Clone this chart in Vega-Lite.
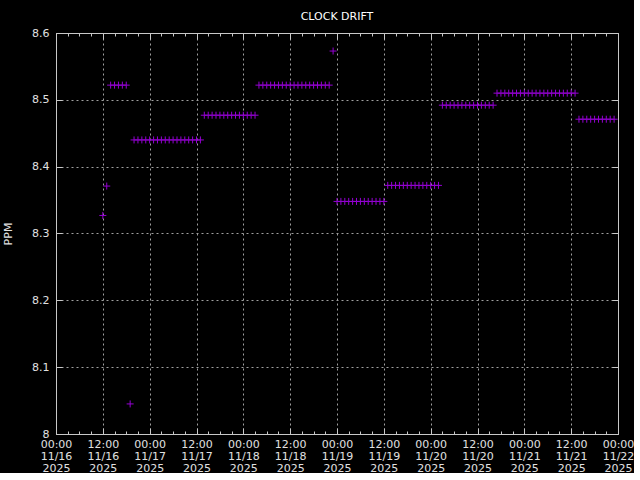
{
  "$schema": "https://vega.github.io/schema/vega-lite/v6.json",
  "width": 562,
  "height": 401,
  "padding": {"left": 2, "top": 11, "right": 0, "bottom": 0},
  "background": "#000000",
  "title": {"text": "CLOCK DRIFT", "color": "#ffffff", "fontSize": 11, "font": "DejaVu Sans", "fontWeight": "normal", "offset": 5, "anchor": "middle"},
  "config": {
    "view": {"stroke": null},
    "axis": {"labelFont": "DejaVu Sans", "labelFontSize": 11, "labelColor": "#e0e0e0", "titleFont": "DejaVu Sans", "titleColor": "#e0e0e0", "titleFontSize": 11, "titleFontWeight": "normal", "domainColor": "#c8c8c8", "tickColor": "#c8c8c8", "gridColor": "#a0a0a0", "gridDash": [2, 3], "gridOpacity": 1}
  },
  "data": {"values": [
    {"t": "2025-11-16T12:00:00Z", "ppm": 8.327},
    {"t": "2025-11-16T13:00:00Z", "ppm": 8.371},
    {"t": "2025-11-16T19:00:00Z", "ppm": 8.045},
    {"t": "2025-11-18T23:00:00Z", "ppm": 8.573},
    {"t": "2025-11-16T14:00:00Z", "ppm": 8.522},
    {"t": "2025-11-16T15:00:00Z", "ppm": 8.522},
    {"t": "2025-11-16T16:00:00Z", "ppm": 8.522},
    {"t": "2025-11-16T17:00:00Z", "ppm": 8.522},
    {"t": "2025-11-16T18:00:00Z", "ppm": 8.522},
    {"t": "2025-11-16T20:00:00Z", "ppm": 8.44},
    {"t": "2025-11-16T21:00:00Z", "ppm": 8.44},
    {"t": "2025-11-16T22:00:00Z", "ppm": 8.44},
    {"t": "2025-11-16T23:00:00Z", "ppm": 8.44},
    {"t": "2025-11-17T00:00:00Z", "ppm": 8.44},
    {"t": "2025-11-17T01:00:00Z", "ppm": 8.44},
    {"t": "2025-11-17T02:00:00Z", "ppm": 8.44},
    {"t": "2025-11-17T03:00:00Z", "ppm": 8.44},
    {"t": "2025-11-17T04:00:00Z", "ppm": 8.44},
    {"t": "2025-11-17T05:00:00Z", "ppm": 8.44},
    {"t": "2025-11-17T06:00:00Z", "ppm": 8.44},
    {"t": "2025-11-17T07:00:00Z", "ppm": 8.44},
    {"t": "2025-11-17T08:00:00Z", "ppm": 8.44},
    {"t": "2025-11-17T09:00:00Z", "ppm": 8.44},
    {"t": "2025-11-17T10:00:00Z", "ppm": 8.44},
    {"t": "2025-11-17T11:00:00Z", "ppm": 8.44},
    {"t": "2025-11-17T12:00:00Z", "ppm": 8.44},
    {"t": "2025-11-17T13:00:00Z", "ppm": 8.44},
    {"t": "2025-11-17T14:00:00Z", "ppm": 8.477},
    {"t": "2025-11-17T15:00:00Z", "ppm": 8.477},
    {"t": "2025-11-17T16:00:00Z", "ppm": 8.477},
    {"t": "2025-11-17T17:00:00Z", "ppm": 8.477},
    {"t": "2025-11-17T18:00:00Z", "ppm": 8.477},
    {"t": "2025-11-17T19:00:00Z", "ppm": 8.477},
    {"t": "2025-11-17T20:00:00Z", "ppm": 8.477},
    {"t": "2025-11-17T21:00:00Z", "ppm": 8.477},
    {"t": "2025-11-17T22:00:00Z", "ppm": 8.477},
    {"t": "2025-11-17T23:00:00Z", "ppm": 8.477},
    {"t": "2025-11-18T00:00:00Z", "ppm": 8.477},
    {"t": "2025-11-18T01:00:00Z", "ppm": 8.477},
    {"t": "2025-11-18T02:00:00Z", "ppm": 8.477},
    {"t": "2025-11-18T03:00:00Z", "ppm": 8.477},
    {"t": "2025-11-18T04:00:00Z", "ppm": 8.522},
    {"t": "2025-11-18T05:00:00Z", "ppm": 8.522},
    {"t": "2025-11-18T06:00:00Z", "ppm": 8.522},
    {"t": "2025-11-18T07:00:00Z", "ppm": 8.522},
    {"t": "2025-11-18T08:00:00Z", "ppm": 8.522},
    {"t": "2025-11-18T09:00:00Z", "ppm": 8.522},
    {"t": "2025-11-18T10:00:00Z", "ppm": 8.522},
    {"t": "2025-11-18T11:00:00Z", "ppm": 8.522},
    {"t": "2025-11-18T12:00:00Z", "ppm": 8.522},
    {"t": "2025-11-18T13:00:00Z", "ppm": 8.522},
    {"t": "2025-11-18T14:00:00Z", "ppm": 8.522},
    {"t": "2025-11-18T15:00:00Z", "ppm": 8.522},
    {"t": "2025-11-18T16:00:00Z", "ppm": 8.522},
    {"t": "2025-11-18T17:00:00Z", "ppm": 8.522},
    {"t": "2025-11-18T18:00:00Z", "ppm": 8.522},
    {"t": "2025-11-18T19:00:00Z", "ppm": 8.522},
    {"t": "2025-11-18T20:00:00Z", "ppm": 8.522},
    {"t": "2025-11-18T21:00:00Z", "ppm": 8.522},
    {"t": "2025-11-18T22:00:00Z", "ppm": 8.522},
    {"t": "2025-11-19T00:00:00Z", "ppm": 8.348},
    {"t": "2025-11-19T01:00:00Z", "ppm": 8.348},
    {"t": "2025-11-19T02:00:00Z", "ppm": 8.348},
    {"t": "2025-11-19T03:00:00Z", "ppm": 8.348},
    {"t": "2025-11-19T04:00:00Z", "ppm": 8.348},
    {"t": "2025-11-19T05:00:00Z", "ppm": 8.348},
    {"t": "2025-11-19T06:00:00Z", "ppm": 8.348},
    {"t": "2025-11-19T07:00:00Z", "ppm": 8.348},
    {"t": "2025-11-19T08:00:00Z", "ppm": 8.348},
    {"t": "2025-11-19T09:00:00Z", "ppm": 8.348},
    {"t": "2025-11-19T10:00:00Z", "ppm": 8.348},
    {"t": "2025-11-19T11:00:00Z", "ppm": 8.348},
    {"t": "2025-11-19T12:00:00Z", "ppm": 8.348},
    {"t": "2025-11-19T13:00:00Z", "ppm": 8.372},
    {"t": "2025-11-19T14:00:00Z", "ppm": 8.372},
    {"t": "2025-11-19T15:00:00Z", "ppm": 8.372},
    {"t": "2025-11-19T16:00:00Z", "ppm": 8.372},
    {"t": "2025-11-19T17:00:00Z", "ppm": 8.372},
    {"t": "2025-11-19T18:00:00Z", "ppm": 8.372},
    {"t": "2025-11-19T19:00:00Z", "ppm": 8.372},
    {"t": "2025-11-19T20:00:00Z", "ppm": 8.372},
    {"t": "2025-11-19T21:00:00Z", "ppm": 8.372},
    {"t": "2025-11-19T22:00:00Z", "ppm": 8.372},
    {"t": "2025-11-19T23:00:00Z", "ppm": 8.372},
    {"t": "2025-11-20T00:00:00Z", "ppm": 8.372},
    {"t": "2025-11-20T01:00:00Z", "ppm": 8.372},
    {"t": "2025-11-20T02:00:00Z", "ppm": 8.372},
    {"t": "2025-11-20T03:00:00Z", "ppm": 8.492},
    {"t": "2025-11-20T04:00:00Z", "ppm": 8.492},
    {"t": "2025-11-20T05:00:00Z", "ppm": 8.492},
    {"t": "2025-11-20T06:00:00Z", "ppm": 8.492},
    {"t": "2025-11-20T07:00:00Z", "ppm": 8.492},
    {"t": "2025-11-20T08:00:00Z", "ppm": 8.492},
    {"t": "2025-11-20T09:00:00Z", "ppm": 8.492},
    {"t": "2025-11-20T10:00:00Z", "ppm": 8.492},
    {"t": "2025-11-20T11:00:00Z", "ppm": 8.492},
    {"t": "2025-11-20T12:00:00Z", "ppm": 8.492},
    {"t": "2025-11-20T13:00:00Z", "ppm": 8.492},
    {"t": "2025-11-20T14:00:00Z", "ppm": 8.492},
    {"t": "2025-11-20T15:00:00Z", "ppm": 8.492},
    {"t": "2025-11-20T16:00:00Z", "ppm": 8.492},
    {"t": "2025-11-20T17:00:00Z", "ppm": 8.51},
    {"t": "2025-11-20T18:00:00Z", "ppm": 8.51},
    {"t": "2025-11-20T19:00:00Z", "ppm": 8.51},
    {"t": "2025-11-20T20:00:00Z", "ppm": 8.51},
    {"t": "2025-11-20T21:00:00Z", "ppm": 8.51},
    {"t": "2025-11-20T22:00:00Z", "ppm": 8.51},
    {"t": "2025-11-20T23:00:00Z", "ppm": 8.51},
    {"t": "2025-11-21T00:00:00Z", "ppm": 8.51},
    {"t": "2025-11-21T01:00:00Z", "ppm": 8.51},
    {"t": "2025-11-21T02:00:00Z", "ppm": 8.51},
    {"t": "2025-11-21T03:00:00Z", "ppm": 8.51},
    {"t": "2025-11-21T04:00:00Z", "ppm": 8.51},
    {"t": "2025-11-21T05:00:00Z", "ppm": 8.51},
    {"t": "2025-11-21T06:00:00Z", "ppm": 8.51},
    {"t": "2025-11-21T07:00:00Z", "ppm": 8.51},
    {"t": "2025-11-21T08:00:00Z", "ppm": 8.51},
    {"t": "2025-11-21T09:00:00Z", "ppm": 8.51},
    {"t": "2025-11-21T10:00:00Z", "ppm": 8.51},
    {"t": "2025-11-21T11:00:00Z", "ppm": 8.51},
    {"t": "2025-11-21T12:00:00Z", "ppm": 8.51},
    {"t": "2025-11-21T13:00:00Z", "ppm": 8.51},
    {"t": "2025-11-21T14:00:00Z", "ppm": 8.471},
    {"t": "2025-11-21T15:00:00Z", "ppm": 8.471},
    {"t": "2025-11-21T16:00:00Z", "ppm": 8.471},
    {"t": "2025-11-21T17:00:00Z", "ppm": 8.471},
    {"t": "2025-11-21T18:00:00Z", "ppm": 8.471},
    {"t": "2025-11-21T19:00:00Z", "ppm": 8.471},
    {"t": "2025-11-21T20:00:00Z", "ppm": 8.471},
    {"t": "2025-11-21T21:00:00Z", "ppm": 8.471},
    {"t": "2025-11-21T22:00:00Z", "ppm": 8.471},
    {"t": "2025-11-21T23:00:00Z", "ppm": 8.471}
  ]},
  "layer": [
    {
      "mark": {"type": "point", "shape": "M-1,0L1,0M0,-1L0,1", "filled": false, "stroke": "#9400d3", "strokeWidth": 1, "size": 49, "opacity": 1},
      "encoding": {
        "x": {"field": "t", "type": "temporal",
          "scale": {"type": "utc", "domain": [1763251200000, 1763769600000], "nice": false},
          "axis": {"orient": "bottom", "title": null, "values": [1763251200000, 1763294400000, 1763337600000, 1763380800000, 1763424000000, 1763467200000, 1763510400000, 1763553600000, 1763596800000, 1763640000000, 1763683200000, 1763726400000, 1763769600000], "tickSize": -6, "labelPadding": 10, "labelLineHeight": 12, "labelExpr": "[utcFormat(datum.value, '%H:%M'), utcFormat(datum.value, '%m/%d'), utcFormat(datum.value, '%Y')]", "grid": true, "labelFlush": false, "labelOverlap": false}},
        "y": {"field": "ppm", "type": "quantitative",
          "scale": {"domain": [8, 8.6], "nice": false, "zero": false},
          "axis": {"orient": "left", "title": "PPM", "values": [8, 8.1, 8.2, 8.3, 8.4, 8.5, 8.6], "format": ".1~f", "tickSize": -6, "labelPadding": 13, "grid": true, "titlePadding": 18}}
      }
    },
    {
      "mark": {"type": "point", "opacity": 0},
      "encoding": {
        "x": {"field": "t", "type": "temporal",
          "scale": {"type": "utc", "domain": [1763251200000, 1763769600000], "nice": false},
          "axis": {"orient": "top", "title": null, "labels": false, "grid": false, "values": [1763251200000, 1763262000000, 1763272800000, 1763283600000, 1763294400000, 1763305200000, 1763316000000, 1763326800000, 1763337600000, 1763348400000, 1763359200000, 1763370000000, 1763380800000, 1763391600000, 1763402400000, 1763413200000, 1763424000000, 1763434800000, 1763445600000, 1763456400000, 1763467200000, 1763478000000, 1763488800000, 1763499600000, 1763510400000, 1763521200000, 1763532000000, 1763542800000, 1763553600000, 1763564400000, 1763575200000, 1763586000000, 1763596800000, 1763607600000, 1763618400000, 1763629200000, 1763640000000, 1763650800000, 1763661600000, 1763672400000, 1763683200000, 1763694000000, 1763704800000, 1763715600000, 1763726400000, 1763737200000, 1763748000000, 1763758800000, 1763769600000], "tickSize": -3}},
        "y": {"field": "ppm", "type": "quantitative",
          "scale": {"domain": [8, 8.6], "nice": false, "zero": false},
          "axis": {"orient": "right", "title": null, "labels": false, "grid": false, "values": [8, 8.1, 8.2, 8.3, 8.4, 8.5, 8.6], "tickSize": -6}}
      }
    },
    {
      "mark": {"type": "point", "opacity": 0},
      "encoding": {
        "x": {"field": "t", "type": "temporal",
          "scale": {"type": "utc", "domain": [1763251200000, 1763769600000], "nice": false},
          "axis": {"orient": "bottom", "title": null, "labels": false, "grid": false, "domain": false, "values": [1763251200000, 1763262000000, 1763272800000, 1763283600000, 1763294400000, 1763305200000, 1763316000000, 1763326800000, 1763337600000, 1763348400000, 1763359200000, 1763370000000, 1763380800000, 1763391600000, 1763402400000, 1763413200000, 1763424000000, 1763434800000, 1763445600000, 1763456400000, 1763467200000, 1763478000000, 1763488800000, 1763499600000, 1763510400000, 1763521200000, 1763532000000, 1763542800000, 1763553600000, 1763564400000, 1763575200000, 1763586000000, 1763596800000, 1763607600000, 1763618400000, 1763629200000, 1763640000000, 1763650800000, 1763661600000, 1763672400000, 1763683200000, 1763694000000, 1763704800000, 1763715600000, 1763726400000, 1763737200000, 1763748000000, 1763758800000, 1763769600000], "tickSize": -3}}
      }
    },
    {
      "mark": {"type": "point", "opacity": 0},
      "encoding": {
        "x": {"field": "t", "type": "temporal",
          "scale": {"type": "utc", "domain": [1763251200000, 1763769600000], "nice": false},
          "axis": {"orient": "top", "title": null, "labels": false, "grid": false, "domain": false, "values": [1763251200000, 1763294400000, 1763337600000, 1763380800000, 1763424000000, 1763467200000, 1763510400000, 1763553600000, 1763596800000, 1763640000000, 1763683200000, 1763726400000, 1763769600000], "tickSize": -6}}
      }
    }
  ],
  "resolve": {"axis": {"x": "independent", "y": "independent"}}
}
